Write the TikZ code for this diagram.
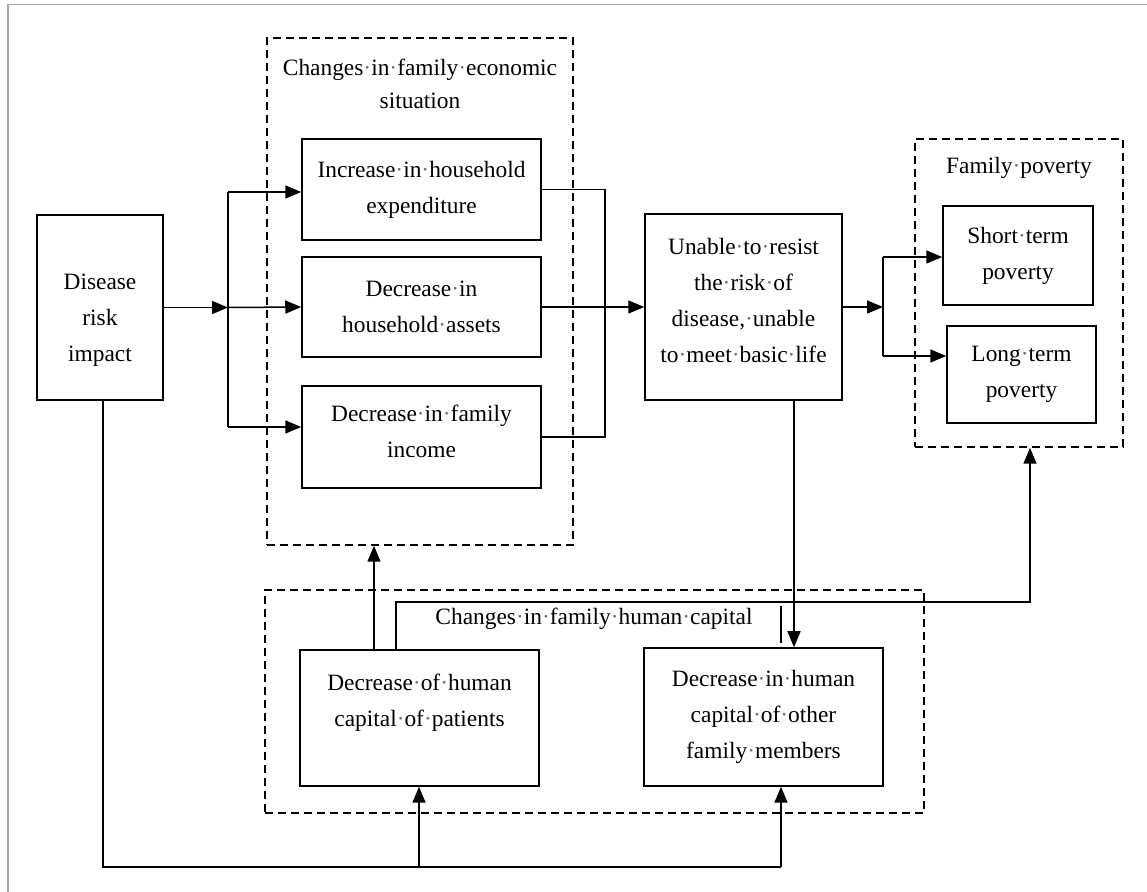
\documentclass[tikz,border=0pt]{standalone}
\usepackage{fontspec}
\setmainfont{Liberation Serif}
\usetikzlibrary{arrows.meta}
\newcommand{\wdot}{\textcolor{black!55}{·}}

\begin{document}
\begin{tikzpicture}[
    x=0.5pt, y=-0.5pt,
  box/.style={draw, line width=0.75pt, align=center, inner sep=0pt,
    font=\fontsize{11.7}{18}\selectfont},
  txt/.style={align=center, inner sep=0pt, font=\fontsize{11.7}{18}\selectfont},
  grp/.style={draw, line width=0.75pt, dash pattern=on 4pt off 2.5pt},
  ttl/.style={align=center, inner sep=0pt, font=\fontsize{11.7}{16.5}\selectfont},
  e/.style={line width=0.75pt},
  arr/.style={e, -{Triangle[length=8pt,width=6.5pt]}}
]
\useasboundingbox (0,0) rectangle (1147,892);
\draw[gray!70, line width=0.8pt] (8,892) -- (8,4.5) -- (1147,4.5);

% --- dashed groups ---
\node[grp, minimum width=153pt, minimum height=253.5pt] (econ) at (420,291.5) {};
\node[grp, minimum width=104pt, minimum height=154pt] (poverty) at (1019,293) {};
\node[grp, minimum width=329.5pt, minimum height=111.5pt] (human) at (594.5,701.5) {};
\node[ttl] (econtitle) at (420,84) {Changes\wdot in\wdot family\wdot economic\\situation};
\node[ttl] (povtitle) at (1019,168) {Family\wdot poverty};
\node[ttl] (humantitle) at (594,619) {Changes\wdot in\wdot family\wdot human\wdot capital};

% --- boxes ---
\node[box, minimum width=63pt, minimum height=92.5pt] (disease) at (100,307.5) {};
\node[txt] (diseasetxt) at (100,320) {Disease\\risk\\impact};
\node[box, minimum width=119.5pt, minimum height=50.5pt] (incr) at (421.5,189.5) {Increase\wdot in\wdot household\\expenditure};
\node[box, minimum width=119.5pt, minimum height=50pt] (assets) at (421.5,307) {Decrease\wdot in\\household\wdot assets};
\node[box, minimum width=119.5pt, minimum height=51pt] (income) at (421.5,437) {Decrease\wdot in\wdot family\\income\rule[-6pt]{0pt}{0pt}};
\node[box, minimum width=98.5pt, minimum height=93pt] (unable) at (743.5,307) {};
\node[txt] (unabletxt) at (743.5,301) {Unable\wdot to\wdot resist\\the\wdot risk\wdot of\\disease,\wdot unable\\to\wdot meet\wdot basic\wdot life};
\node[box, minimum width=75pt, minimum height=49.5pt] (short) at (1018,255.5) {Short\wdot term\\poverty};
\node[box, minimum width=74.5pt, minimum height=48.5pt] (long) at (1021.5,374.5) {Long\wdot term\\poverty};
\node[box, minimum width=119.5pt, minimum height=68pt] (patients) at (419.5,718) {Decrease\wdot of\wdot human\\capital\wdot of\wdot patients\\\mbox{}};
\node[box, minimum width=119.5pt, minimum height=69pt] (others) at (763.5,717) {Decrease\wdot in\wdot human\\capital\wdot of\wdot other\\family\wdot members};

% --- helper points ---
\coordinate (jl) at (228,307.5);
\coordinate (jt) at (228,192);
\coordinate (jb) at (228,427);
\coordinate (cr) at (605,307);
\coordinate (jr) at (883,307);
\coordinate (js) at (883,257);
\coordinate (jg) at (883,356);
\coordinate (ud) at (794,400);
\coordinate (pu) at (374,600);
\coordinate (hl) at (396,602);
\coordinate (pa) at (1030,602);
\coordinate (stub) at (781,606);
\coordinate (bl) at (103,867);
\coordinate (bm) at (419,867);
\coordinate (br) at (781,867);

% --- disease impact to economic situation ---
\draw[arr] (disease.east) -- (jl);
\draw[e] (jt) -- (jb);
\draw[arr] (jt) -- (jt -| incr.west);
\draw[arr] (jl) -- (assets.west);
\draw[arr] (jb) -- (jb -| income.west);

% --- economic situation to poverty ---
\draw[e] (incr.east) -| (cr) |- (income.east);
\draw[arr] (assets.east) -- (unable.west);
\draw[arr] (unable.east) -- (jr);
\draw[e] (js) -- (jg);
\draw[arr] (js) -- (js -| short.west);
\draw[arr] (jg) -- (jg -| long.west);

% --- human capital links ---
\draw[arr] (ud) -- (ud |- others.north);
\draw[arr] (patients.north -| pu) -- (econ.south -| pu);
\draw[arr] (patients.north -| hl) -- (hl) -- (pa) -- (pa |- poverty.south);
\draw[e] (stub) -- ++(0,37);
\draw[e] (disease.south -| bl) -- (bl) -- (br);
\draw[arr] (bm) -- (bm |- patients.south);
\draw[arr] (br) -- (br |- others.south);
\end{tikzpicture}
\end{document}
